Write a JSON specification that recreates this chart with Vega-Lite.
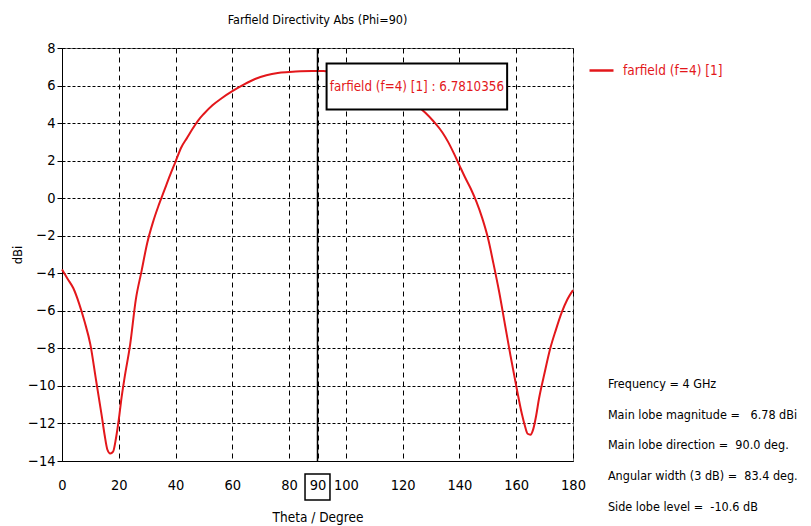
{
  "$schema": "https://vega.github.io/schema/vega-lite/v6.json",
  "width": 511,
  "height": 413,
  "autosize": {"type": "none"},
  "padding": {"left": 62, "top": 48, "right": 238, "bottom": 65},
  "background": "white",
  "config": {
    "font": "DejaVu Sans Condensed, DejaVu Sans, sans-serif",
    "view": {"stroke": "#777", "strokeWidth": 1},
    "axis": {"labelColor": "black", "titleColor": "black", "domainColor": "black", "tickColor": "black", "gridColor": "black", "gridOpacity": 1, "gridWidth": 1, "labelFontSize": 14.5, "titleFontSize": 13.5, "titleFontWeight": "normal", "labelOverlap": false},
    "axisX": {"gridDash": [5, 4]},
    "axisY": {"gridDash": [3, 2]}
  },
  "title": {"text": "Farfield Directivity Abs (Phi=90)", "fontSize": 12.5, "fontWeight": "normal", "color": "black", "anchor": "middle", "offset": 14},
  "layer": [
    {
      "data": {"values": [
        {"theta": 0, "dbi": -3.8}, {"theta": 2, "dbi": -4.3}, {"theta": 4, "dbi": -4.8}, {"theta": 6, "dbi": -5.6},
        {"theta": 8, "dbi": -6.6}, {"theta": 10, "dbi": -7.8}, {"theta": 12, "dbi": -9.7}, {"theta": 14, "dbi": -11.6},
        {"theta": 15, "dbi": -12.6}, {"theta": 16, "dbi": -13.4}, {"theta": 17, "dbi": -13.6}, {"theta": 18, "dbi": -13.5},
        {"theta": 19, "dbi": -12.8}, {"theta": 20, "dbi": -11.8}, {"theta": 21, "dbi": -10.6}, {"theta": 22, "dbi": -9.6},
        {"theta": 24, "dbi": -7.8}, {"theta": 26, "dbi": -5.4}, {"theta": 28, "dbi": -3.9}, {"theta": 30, "dbi": -2.4},
        {"theta": 32, "dbi": -1.3}, {"theta": 34, "dbi": -0.4}, {"theta": 36, "dbi": 0.4}, {"theta": 38, "dbi": 1.2},
        {"theta": 40, "dbi": 1.95}, {"theta": 42, "dbi": 2.7}, {"theta": 44, "dbi": 3.2}, {"theta": 46, "dbi": 3.7},
        {"theta": 48, "dbi": 4.15}, {"theta": 50, "dbi": 4.5}, {"theta": 53, "dbi": 4.95}, {"theta": 56, "dbi": 5.3},
        {"theta": 60, "dbi": 5.7}, {"theta": 64, "dbi": 6.05}, {"theta": 68, "dbi": 6.35}, {"theta": 72, "dbi": 6.55},
        {"theta": 76, "dbi": 6.67}, {"theta": 80, "dbi": 6.72}, {"theta": 84, "dbi": 6.76}, {"theta": 88, "dbi": 6.78},
        {"theta": 90, "dbi": 6.781}, {"theta": 92, "dbi": 6.77}, {"theta": 96, "dbi": 6.72}, {"theta": 100, "dbi": 6.62},
        {"theta": 105, "dbi": 6.4}, {"theta": 110, "dbi": 6.1}, {"theta": 115, "dbi": 5.75}, {"theta": 120, "dbi": 5.45},
        {"theta": 124, "dbi": 5.1}, {"theta": 126, "dbi": 4.82}, {"theta": 128, "dbi": 4.55}, {"theta": 131, "dbi": 4.07},
        {"theta": 134, "dbi": 3.5}, {"theta": 136, "dbi": 3.0}, {"theta": 138, "dbi": 2.4}, {"theta": 140, "dbi": 1.75},
        {"theta": 142, "dbi": 1.1}, {"theta": 144, "dbi": 0.5}, {"theta": 146, "dbi": -0.2}, {"theta": 148, "dbi": -1.05},
        {"theta": 150, "dbi": -2.1}, {"theta": 152, "dbi": -3.5}, {"theta": 154, "dbi": -5.0}, {"theta": 156, "dbi": -6.7},
        {"theta": 158, "dbi": -8.4}, {"theta": 160, "dbi": -10.0}, {"theta": 162, "dbi": -11.5}, {"theta": 163, "dbi": -12.1},
        {"theta": 164, "dbi": -12.55}, {"theta": 165, "dbi": -12.6}, {"theta": 166, "dbi": -12.3}, {"theta": 167, "dbi": -11.6},
        {"theta": 168, "dbi": -10.7}, {"theta": 170, "dbi": -9.3}, {"theta": 172, "dbi": -8.0}, {"theta": 174, "dbi": -7.0},
        {"theta": 176, "dbi": -6.1}, {"theta": 178, "dbi": -5.4}, {"theta": 180, "dbi": -4.9}
      ]},
      "mark": {"type": "line", "strokeWidth": 2, "interpolate": "monotone"},
      "encoding": {
        "x": {"field": "theta", "type": "quantitative",
          "scale": {"domain": [0, 180], "nice": false, "zero": false},
          "axis": {"values": [0, 20, 40, 60, 80, 90, 100, 120, 140, 160, 180], "tickCount": 20, "title": "Theta / Degree", "tickSize": 0, "labelPadding": 17, "titlePadding": 19, "labelFlush": false, "labelOverlap": false}},
        "y": {"field": "dbi", "type": "quantitative",
          "scale": {"domain": [-14, 8], "nice": false, "zero": false},
          "axis": {"values": [-14, -12, -10, -8, -6, -4, -2, 0, 2, 4, 6, 8], "tickCount": 20, "title": "dBi", "titleFontSize": 13, "tickSize": 5, "labelPadding": 2, "titlePadding": 3, "labelFlush": false, "labelOverlap": false}},
        "color": {"datum": "farfield (f=4) [1]", "type": "nominal",
          "scale": {"range": ["#e3171b"]},
          "legend": {"title": null, "orient": "none", "legendX": 526, "legendY": 9, "symbolType": "stroke", "symbolSize": 576, "symbolStrokeWidth": 2.5, "labelFontSize": 13.5, "labelColor": "#e3171b", "labelOffset": 8, "padding": 0}}
      }
    },
    {
      "data": {"values": [{}]},
      "mark": {"type": "rule", "color": "black", "strokeWidth": 1.5},
      "encoding": {"x": {"datum": 90}}
    },
    {
      "data": {"values": [{}]},
      "mark": {"type": "rect", "fill": "white", "stroke": "black", "strokeWidth": 2},
      "encoding": {"x": {"datum": 93.2}, "x2": {"datum": 156.8}, "y": {"datum": 7.17}, "y2": {"datum": 4.72}}
    },
    {
      "data": {"values": [{}]},
      "mark": {"type": "text", "color": "#e3171b", "fontSize": 13.3, "align": "center", "baseline": "middle"},
      "encoding": {"x": {"datum": 125}, "y": {"datum": 5.94}, "text": {"value": "farfield (f=4) [1] : 6.7810356"}}
    },
    {
      "data": {"values": [{}]},
      "mark": {"type": "point", "shape": "M-0.96,-1H0.96V1H-0.96Z", "size": 676, "filled": false, "stroke": "black", "strokeWidth": 1.5, "opacity": 1, "yOffset": 26},
      "encoding": {"x": {"datum": 90}, "y": {"datum": -14}}
    },
    {
      "data": {"values": [{}]},
      "mark": {"type": "text", "color": "black", "fontSize": 12.5, "align": "left", "baseline": "alphabetic", "lineHeight": 30.75},
      "encoding": {"x": {"datum": 192.3}, "y": {"datum": -10.11},
        "text": {"value": ["Frequency = 4 GHz", "Main lobe magnitude =\u00a0\u00a0\u00a06.78 dBi", "Main lobe direction =\u00a0\u00a090.0 deg.", "Angular width (3 dB) =\u00a0\u00a083.4 deg.", "Side lobe level =\u00a0\u00a0-10.6 dB"]}}
    }
  ]
}
